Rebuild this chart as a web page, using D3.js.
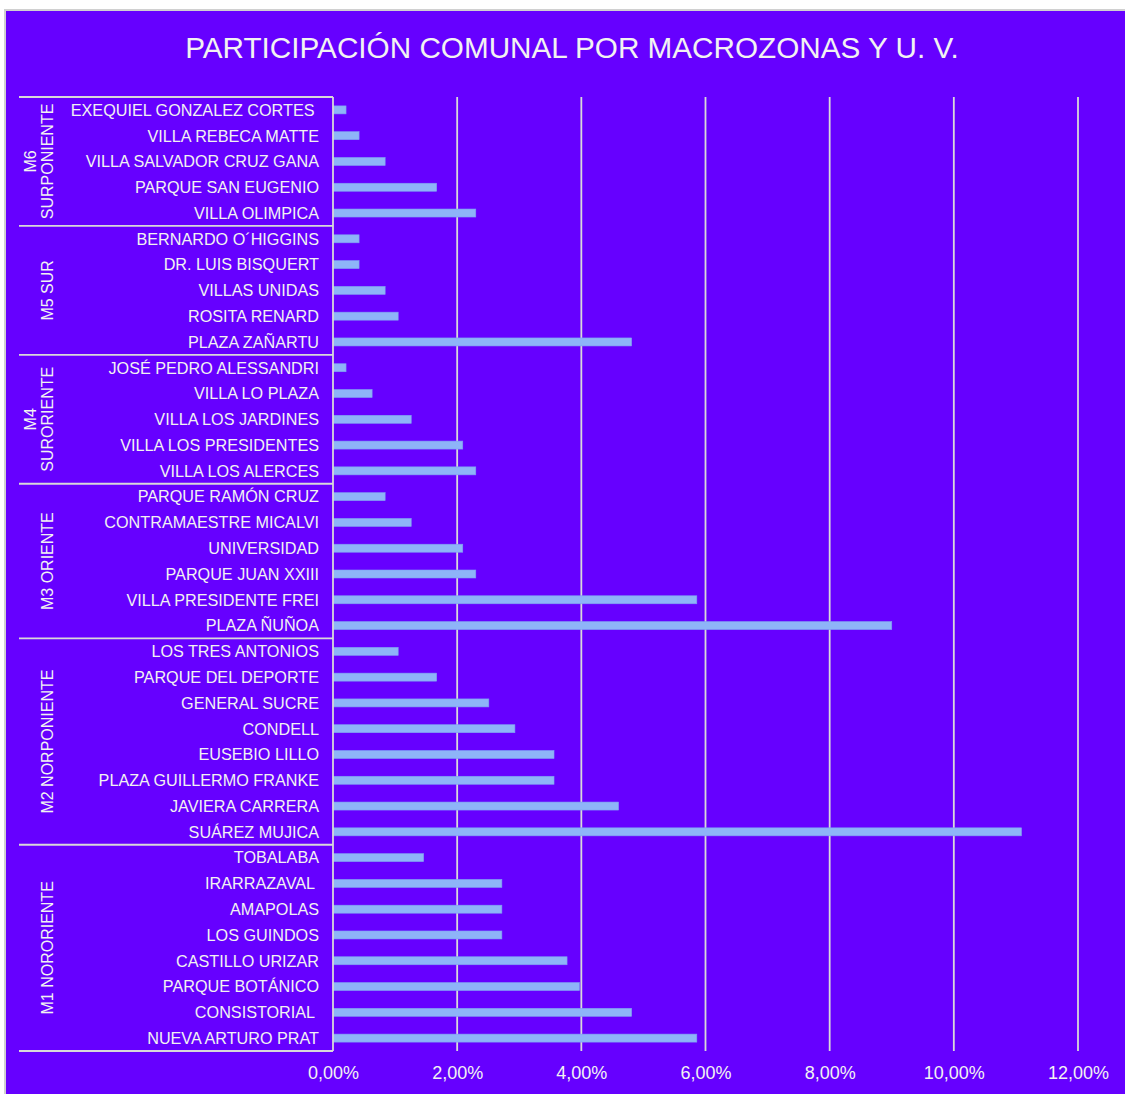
<html>
<head>
    <meta charset="utf-8">
    <title>Participación comunal por macrozonas y U. V.</title>
    <script type="text/javascript" src="https://cdn.jsdelivr.net/npm/d3@7"></script>
    <style type="text/css">
        body {
            margin: 0;
            background: #fff;
        }
        svg text {
            font-family: 'Liberation Sans', Arial, Helvetica, sans-serif;
            fill: #f2f2f2;
        }
        svg text.title {
            font-size: 29.7px;
        }
        svg text.uv_name {
            font-size: 16.2px;
            white-space: pre;
        }
        svg text.zone_name {
            font-size: 16px;
        }
        svg .tick text {
            font-size: 18px;
        }
        svg .bar {
            fill: #8eb4f8;
            stroke: #7f9ff2;
            stroke-width: 0.6;
        }
        svg line.grid, svg line.frame {
            stroke: #d9d9d9;
            stroke-width: 1.8;
        }
    </style>
</head>
<body>
<div id="svg-container"></div>
<script type="text/javascript">
// macrozones, top to bottom, with how many U.V. each holds
var zones = ['M6 SURPONIENTE', 'M5 SUR', 'M4 SURORIENTE', 'M3 ORIENTE', 'M2 NORPONIENTE', 'M1 NORORIENTE'];
var zone_lines = [['M6', 'SURPONIENTE'], ['M5 SUR'], ['M4', 'SURORIENTE'], ['M3 ORIENTE'], ['M2 NORPONIENTE'], ['M1 NORORIENTE']];
var zone_sizes = [5, 5, 5, 6, 8, 8];

// unidades vecinales, top to bottom
var uv_names = [
    'EXEQUIEL GONZALEZ CORTES ', 'VILLA REBECA MATTE', 'VILLA SALVADOR CRUZ GANA', 'PARQUE SAN EUGENIO', 'VILLA OLIMPICA',
    'BERNARDO O´HIGGINS', 'DR. LUIS BISQUERT', 'VILLAS UNIDAS', 'ROSITA RENARD', 'PLAZA ZAÑARTU',
    'JOSÉ PEDRO ALESSANDRI', 'VILLA LO PLAZA', 'VILLA LOS JARDINES', 'VILLA LOS PRESIDENTES', 'VILLA LOS ALERCES',
    'PARQUE RAMÓN CRUZ', 'CONTRAMAESTRE MICALVI', 'UNIVERSIDAD', 'PARQUE JUAN XXIII', 'VILLA PRESIDENTE FREI', 'PLAZA ÑUÑOA',
    'LOS TRES ANTONIOS', 'PARQUE DEL DEPORTE', 'GENERAL SUCRE', 'CONDELL', 'EUSEBIO LILLO', 'PLAZA GUILLERMO FRANKE', 'JAVIERA CARRERA', 'SUÁREZ MUJICA',
    'TOBALABA', 'IRARRAZAVAL ', 'AMAPOLAS', 'LOS GUINDOS', 'CASTILLO URIZAR', 'PARQUE BOTÁNICO', 'CONSISTORIAL ', 'NUEVA ARTURO PRAT'
];

// participation, in percent
var uv_values = [
    0.21, 0.42, 0.84, 1.67, 2.30,
    0.42, 0.42, 0.84, 1.05, 4.81,
    0.21, 0.63, 1.26, 2.09, 2.30,
    0.84, 1.26, 2.09, 2.30, 5.86, 9.00,
    1.05, 1.67, 2.51, 2.93, 3.56, 3.56, 4.60, 11.09,
    1.46, 2.72, 2.72, 2.72, 3.77, 3.97, 4.81, 5.86
];

var x_ticks = [0, 2, 4, 6, 8, 10, 12];

var SVG_WIDTH = 1125;
var SVG_HEIGHT = 1094;
var PLOT_LEFT = 333;
var PLOT_RIGHT = 1078;
var PLOT_TOP = 97;
var PLOT_BOTTOM = 1051;
var ZONE_LEFT = 19;
var BAR_HEIGHT = 8;

var svg = d3.select('#svg-container')
            .append('svg')
            .attr('width', SVG_WIDTH)
            .attr('height', SVG_HEIGHT)
            .style('display', 'block');

// background, border only shows top and left (rest runs off the picture)
svg.append('rect')
    .attr('x', 5).attr('y', 10)
    .attr('width', SVG_WIDTH + 10).attr('height', SVG_HEIGHT + 10)
    .attr('fill', '#6600ff')
    .attr('stroke', '#d0d0d0')
    .attr('stroke-width', 2);

svg.append('text')
    .attr('class', 'title')
    .attr('x', 572)
    .attr('y', 58)
    .attr('text-anchor', 'middle')
    .text('PARTICIPACIÓN COMUNAL POR MACROZONAS Y U. V.');

var x = d3.scaleLinear().domain([0, 12]).range([PLOT_LEFT, PLOT_RIGHT]);
var y = d3.scaleBand().domain(d3.range(uv_names.length)).range([PLOT_TOP, PLOT_BOTTOM]);

// vertical gridlines
svg.selectAll('line.grid')
    .data(x_ticks.slice(1))
    .enter()
    .append('line')
    .attr('class', 'grid')
    .attr('x1', function(d){ return x(d); })
    .attr('x2', function(d){ return x(d); })
    .attr('y1', PLOT_TOP)
    .attr('y2', PLOT_BOTTOM);

// bars
svg.selectAll('rect.bar')
    .data(uv_values)
    .enter()
    .append('rect')
    .attr('class', 'bar')
    .attr('x', x(0))
    .attr('y', function(d, i){ return y(i) + (y.bandwidth() - BAR_HEIGHT) / 2; })
    .attr('width', function(d){ return x(d) - x(0); })
    .attr('height', BAR_HEIGHT);

// category axis line
svg.append('line')
    .attr('class', 'frame')
    .attr('x1', PLOT_LEFT).attr('x2', PLOT_LEFT)
    .attr('y1', PLOT_TOP).attr('y2', PLOT_BOTTOM);

// zone boundaries
var zone_starts = [0];
zone_sizes.forEach(function(n, i){ zone_starts.push(zone_starts[i] + n); });

svg.selectAll('line.zone_sep')
    .data(zone_starts)
    .enter()
    .append('line')
    .attr('class', 'frame')
    .attr('x1', ZONE_LEFT)
    .attr('x2', PLOT_LEFT)
    .attr('y1', function(d){ return d < uv_names.length ? y(d) : PLOT_BOTTOM; })
    .attr('y2', function(d){ return d < uv_names.length ? y(d) : PLOT_BOTTOM; });

// U.V. labels
svg.selectAll('text.uv_name')
    .data(uv_names)
    .enter()
    .append('text')
    .attr('class', 'uv_name')
    .attr('xml:space', 'preserve')
    .attr('text-anchor', 'end')
    .attr('x', PLOT_LEFT - 14)
    .attr('y', function(d, i){ return y(i) + y.bandwidth() / 2; })
    .attr('dy', '0.36em')
    .text(function(d){ return d; });

// zone labels, rotated
var zone_groups = svg.selectAll('g.zone')
    .data(zones)
    .enter()
    .append('g')
    .attr('class', 'zone')
    .attr('transform', function(d, i){
        var mid = (y(zone_starts[i]) + (zone_starts[i + 1] < uv_names.length ? y(zone_starts[i + 1]) : PLOT_BOTTOM)) / 2;
        return 'translate(47,' + mid + ') rotate(-90)';
    });

zone_groups.each(function(d, i){
    var lines = zone_lines[i];
    d3.select(this).selectAll('text')
        .data(lines)
        .enter()
        .append('text')
        .attr('class', 'zone_name')
        .attr('text-anchor', 'middle')
        .attr('x', 0)
        .attr('y', function(l, j){ return (j - (lines.length - 1)) * 17; })
        .attr('dy', '0.36em')
        .text(function(l){ return l; });
});

// value axis
var x_axis = d3.axisBottom(x)
    .tickValues(x_ticks)
    .tickSize(0)
    .tickPadding(15)
    .tickFormat(function(d){ return d.toFixed(2).replace('.', ',') + '%'; });

svg.append('g')
    .attr('transform', 'translate(0,' + PLOT_BOTTOM + ')')
    .call(x_axis)
    .call(function(g){ g.select('.domain').remove(); })
    .selectAll('text')
    .attr('fill', '#f2f2f2');
</script>
</body>
</html>
